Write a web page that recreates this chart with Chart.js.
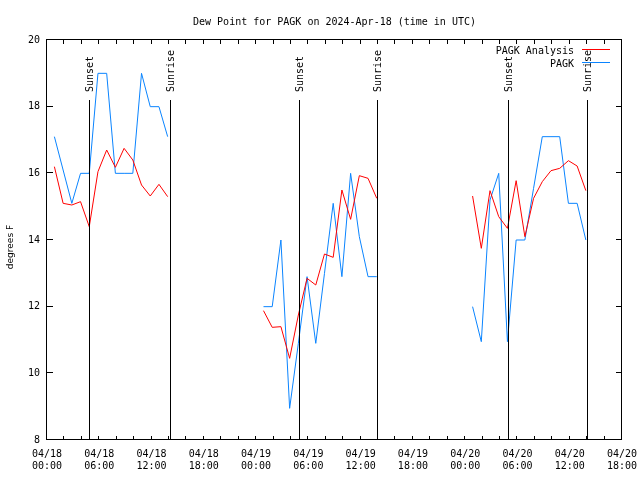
<!DOCTYPE html>
<html><head><meta charset="utf-8">
<script src="https://cdn.jsdelivr.net/npm/chart.js@4/dist/chart.umd.min.js"></script>
<style>html,body{margin:0;padding:0;background:#fff}</style>
</head><body>
<canvas id="c" width="640" height="480"></canvas>
<script>
// ---- data (hours after 04/18 00:00 UTC) ----
const titleText = 'Dew Point for PAGK on 2024-Apr-18 (time in UTC)';
const yAxisLabel = 'degrees F';
const seriesNames = ['PAGK Analysis', 'PAGK'];
const obsHours = [
  0.85, 1.85, 2.85, 3.85, 4.85, 5.85, 6.85, 7.85, 8.85, 9.85, 10.85, 11.85, 12.85, 13.85,
  24.85, 25.85, 26.85, 27.85, 28.85, 29.85, 30.85, 31.85, 32.85, 33.85, 34.85, 35.85, 36.85, 37.85,
  48.85, 49.85, 50.85, 51.85, 52.85, 53.85, 54.85, 55.85, 56.85, 57.85, 58.85, 59.85, 60.85, 61.85
];
const analysisDewpoint = [
  16.2, 15.1, 15.05, 15.15, 14.4, 16.05, 16.7, 16.18, 16.75, 16.4, 15.65, 15.32, 15.67, 15.3,
  11.88, 11.38, 11.4, 10.45, 11.75, 12.85, 12.65, 13.58, 13.48, 15.5, 14.62, 15.93, 15.85, 15.25,
  15.32, 13.75, 15.48, 14.7, 14.35, 15.78, 14.1, 15.25, 15.75, 16.08, 16.15, 16.38, 16.22, 15.48
];
const pagkDewpoint = [
  17.1, 16.1, 15.1, 16.0, 16.0, 19.0, 19.0, 16.0, 16.0, 16.0, 19.0, 18.0, 18.0, 17.1,
  12.0, 12.0, 14.0, 8.95, 10.9, 12.9, 10.9, 13.0, 15.1, 12.9, 16.0, 14.1, 12.9, 12.9,
  12.0, 10.95, 15.2, 16.0, 10.95, 14.0, 14.0, 15.55, 17.1, 17.1, 17.1, 15.1, 15.1, 14.0
];
const sunsetHours = [4.95, 29.05, 53.08];
const sunriseHours = [14.18, 38.05, 62.06];
const tickDates = ['04/18','04/18','04/18','04/18','04/19','04/19','04/19','04/19','04/20','04/20','04/20','04/20'];
const tickTimes = ['00:00','06:00','12:00','18:00','00:00','06:00','12:00','18:00','00:00','06:00','12:00','18:00'];
const yTicks = [8, 10, 12, 14, 16, 18, 20];

// ---- build line data with gaps between observation blocks ----
function withGaps(vals) {
  const out = [];
  for (let i = 0; i < obsHours.length; i++) {
    if (i > 0 && obsHours[i] - obsHours[i-1] > 1.5) out.push({x: (obsHours[i] + obsHours[i-1]) / 2, y: null});
    out.push({x: obsHours[i], y: vals[i]});
  }
  return out;
}

const MONO = "'DejaVu Sans Mono', monospace";
const RED = '#ff0000', BLUE = '#0a84ff';

const framePlugin = {
  id: 'gnuplotFrame',
  afterDraw(chart) {
    const ctx = chart.ctx, a = chart.chartArea;
    const xs = chart.scales.x, ys = chart.scales.y;
    ctx.save();
    ctx.strokeStyle = '#000'; ctx.lineWidth = 1;
    // ticks
    ctx.beginPath();
    for (let h = 2; h < 66; h += 2) {
      const px = Math.round(xs.getPixelForValue(h)) - 0.5;
      ctx.moveTo(px, a.bottom); ctx.lineTo(px, a.bottom - 4);
      ctx.moveTo(px, a.top); ctx.lineTo(px, a.top + 4);
    }
    yTicks.forEach(v => {
      const py = Math.round(ys.getPixelForValue(v)) - 0.5;
      ctx.moveTo(a.left, py); ctx.lineTo(a.left + 6, py);
      ctx.moveTo(a.right, py); ctx.lineTo(a.right - 6, py);
    });
    ctx.stroke();
    // border
    ctx.strokeRect(a.left - 0.5, a.top - 0.5, a.right - a.left, a.bottom - a.top);
    // sunset / sunrise markers
    const h = a.bottom - a.top;
    const lineTop = a.bottom - 0.85 * h;
    const textEnd = a.bottom - 0.87 * h;
    ctx.font = '10px ' + MONO; ctx.fillStyle = '#000';
    const marks = [];
    sunsetHours.forEach(t => marks.push([t, 'Sunset']));
    sunriseHours.forEach(t => marks.push([t, 'Sunrise']));
    marks.forEach(([t, label]) => {
      const px = Math.round(xs.getPixelForValue(t)) - 0.5;
      ctx.beginPath(); ctx.moveTo(px, a.bottom); ctx.lineTo(px, lineTop); ctx.stroke();
      ctx.save();
      ctx.translate(px + 1, textEnd);
      ctx.rotate(-Math.PI / 2);
      ctx.textAlign = 'left'; ctx.textBaseline = 'middle';
      ctx.fillText(label, 0, 0);
      ctx.restore();
    });
    // legend
    ctx.textAlign = 'right'; ctx.textBaseline = 'alphabetic';
    const legendColors = [RED, BLUE];
    seriesNames.forEach((name, i) => {
      const yy = 49.5 + i * 13;
      ctx.fillStyle = '#000';
      ctx.fillText(name, 574, yy + 4);
      ctx.strokeStyle = legendColors[i];
      ctx.beginPath(); ctx.moveTo(582, yy); ctx.lineTo(610, yy); ctx.stroke();
    });
    // title
    ctx.fillStyle = '#000'; ctx.textAlign = 'center';
    ctx.fillText(titleText, (a.left + a.right) / 2, 25);
    // y axis label
    ctx.save();
    ctx.translate(11, 247);
    ctx.rotate(-Math.PI / 2);
    ctx.font = "9px 'DejaVu Sans', sans-serif";
    ctx.textAlign = 'center'; ctx.textBaseline = 'middle';
    ctx.fillText(yAxisLabel, 0, 0);
    ctx.restore();
    ctx.restore();
  }
};

new Chart(document.getElementById('c'), {
  type: 'line',
  data: {
    datasets: [
      { label: seriesNames[0], data: withGaps(analysisDewpoint), borderColor: RED, borderWidth: 1, pointRadius: 0, tension: 0, spanGaps: false, fill: false },
      { label: seriesNames[1], data: withGaps(pagkDewpoint), borderColor: BLUE, borderWidth: 1, pointRadius: 0, tension: 0, spanGaps: false, fill: false }
    ]
  },
  options: {
    responsive: false,
    animation: false,
    devicePixelRatio: 1,
    layout: { padding: { top: 40, right: 18, left: 0, bottom: 0 } },
    plugins: { legend: { display: false }, title: { display: false }, tooltip: { enabled: false } },
    scales: {
      x: {
        type: 'linear', min: 0, max: 66,
        grid: { display: false, drawTicks: false },
        border: { display: false },
        afterFit: s => { s.height = 40; s.paddingLeft = 0; s.paddingRight = 0; },
        ticks: {
          stepSize: 2, autoSkip: false, maxRotation: 0, minRotation: 0, padding: 8,
          color: '#000', font: { family: MONO, size: 10, lineHeight: 1.25 },
          callback: v => (v % 6 === 0 ? [tickDates[v / 6], tickTimes[v / 6]] : '')
        }
      },
      y: {
        min: 8, max: 20,
        grid: { display: false, drawTicks: false },
        border: { display: false },
        afterFit: s => { s.width = 47; },
        ticks: { stepSize: 2, padding: 7, color: '#000', font: { family: MONO, size: 10 } }
      }
    }
  },
  plugins: [framePlugin]
});
</script>
</body></html>
